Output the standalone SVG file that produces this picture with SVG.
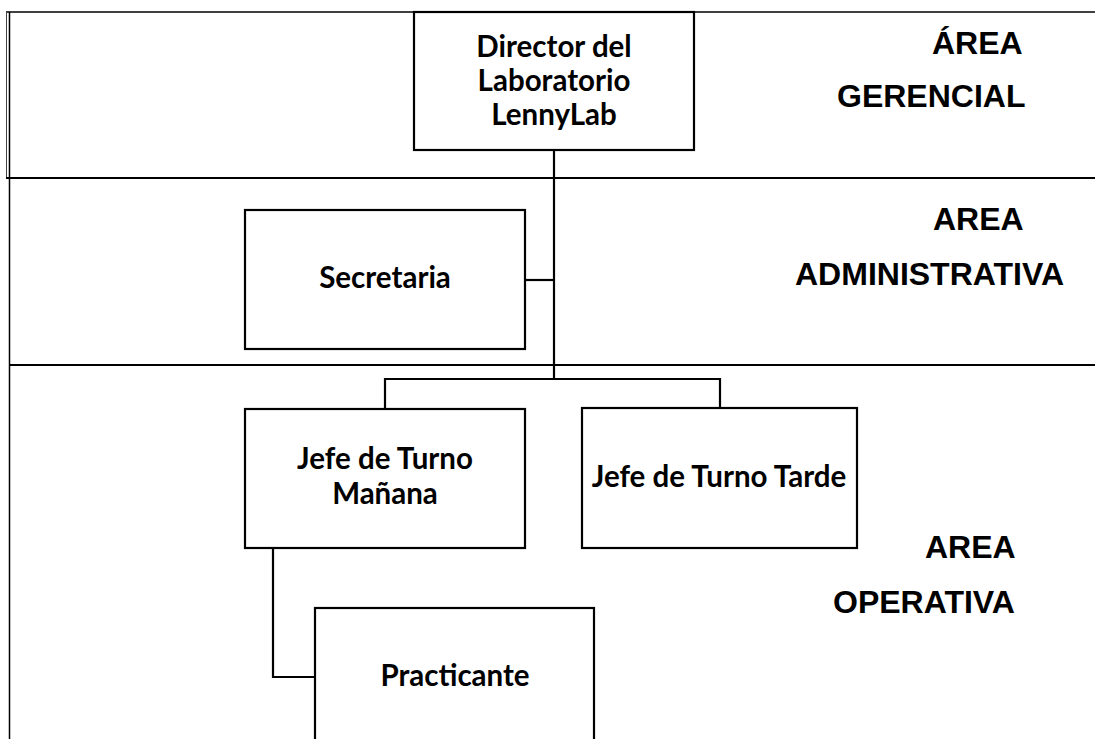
<svg xmlns="http://www.w3.org/2000/svg" width="1095" height="739" viewBox="0 0 1095 739">
<style>
.frame{stroke:#000;fill:none;stroke-width:1.5}
.box{fill:#fff;stroke:#000;stroke-width:2.2}
.conn{stroke:#000;fill:none;stroke-width:2.2}
.lbl{font-family:Lato,"Liberation Sans",sans-serif;font-weight:bold;font-size:29.5px;fill:#000;text-anchor:middle}
.area{font-family:"Liberation Sans",Arial,sans-serif;font-weight:bold;font-size:32px;fill:#000}
</style>
<rect width="1095" height="739" fill="#fff"/>
<g id="frame">
<line class="frame" x1="6" y1="12" x2="1095" y2="12" stroke="#333"/>
<line class="frame" x1="6.5" y1="12" x2="6.5" y2="178" style="stroke-width:1;stroke:#444"/>
<line class="frame" x1="9.5" y1="12" x2="9.5" y2="739"/>
<line class="frame" x1="6" y1="178" x2="1095" y2="178" style="stroke-width:2"/>
<line class="frame" x1="9" y1="365" x2="1095" y2="365" style="stroke-width:2"/>
</g>
<g id="area-labels">
<text class="area" x="932" y="54">ÁREA</text>
<text class="area" x="837" y="107">GERENCIAL</text>
<text class="area" x="933" y="230">AREA</text>
<text class="area" x="795" y="285">ADMINISTRATIVA</text>
<text class="area" x="925" y="558">AREA</text>
<text class="area" x="833" y="613">OPERATIVA</text>
</g>
<g id="connectors">
<polyline class="conn" points="554,150 554,379"/>
<polyline class="conn" points="525,280 554,280"/>
<polyline class="conn" points="385,409 385,379 720,379 720,408"/>
<polyline class="conn" points="273,548 273,677 315,677"/>
</g>
<g id="director">
<rect class="box" x="414" y="12" width="280" height="138"/>
<text class="lbl" x="554" y="57">Director del</text>
<text class="lbl" x="554" y="91">Laboratorio</text>
<text class="lbl" x="554" y="125">LennyLab</text>
</g>
<g id="secretaria">
<rect class="box" x="245" y="210" width="280" height="139"/>
<text class="lbl" x="385" y="288">Secretaria</text>
</g>
<g id="jefe-manana">
<rect class="box" x="245" y="409" width="280" height="139"/>
<text class="lbl" x="385" y="469">Jefe de Turno</text>
<text class="lbl" x="385" y="504">Mañana</text>
</g>
<g id="jefe-tarde">
<rect class="box" x="582" y="408" width="275" height="140"/>
<text class="lbl" x="719" y="487">Jefe de Turno Tarde</text>
</g>
<g id="practicante">
<rect class="box" x="315" y="608" width="279" height="145"/>
<text class="lbl" x="455" y="686">Practicante</text>
</g>
</svg>
